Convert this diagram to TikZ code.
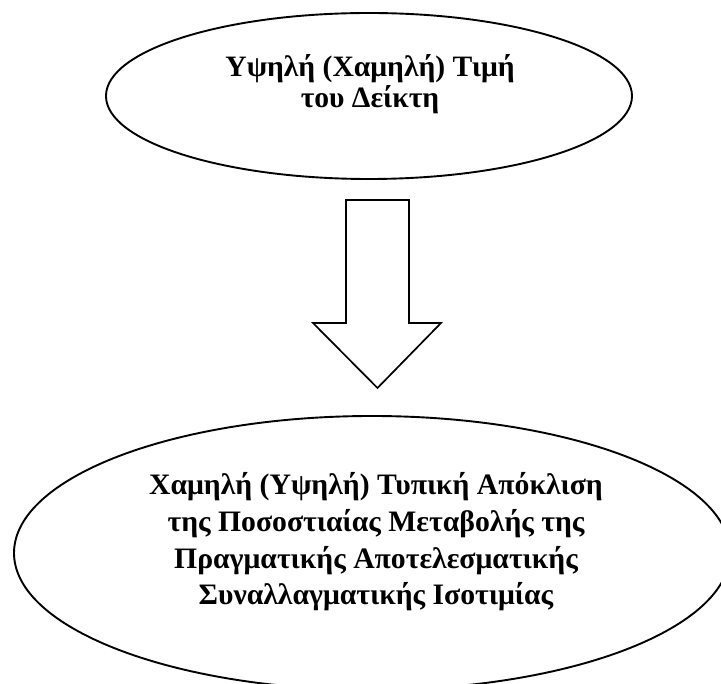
\documentclass[tikz,border=0pt]{standalone}
\usepackage{fontspec}
\setmainfont{Liberation Serif}
\usetikzlibrary{shapes.geometric,calc}
\begin{document}
\begin{tikzpicture}[x=1pt,y=-1pt,line width=1.8pt,
  oval/.style={draw, ellipse, inner sep=0pt, line width=1.9pt},
  toptxt/.style={font=\bfseries\fontsize{29.6}{31}\selectfont, align=center, inner sep=0pt},
  bottxt/.style={font=\bfseries\fontsize{29.7}{36.7}\selectfont, align=center, inner sep=0pt},
  blockarrow/.style={draw, line width=1.7pt, line join=miter}]
\useasboundingbox (0,0) rectangle (721,684);
\clip (0,0) rectangle (721,684);
\node[oval, minimum width=526pt, minimum height=166pt] (top) at (369,96) {};
\node[toptxt, anchor=base] (toptext) at (370,108) {Υψηλή (Χαμηλή) Τιμή\\του Δείκτη};
\node[oval, minimum width=716pt, minimum height=274pt] (bot) at (372,553) {};
\node[bottxt, anchor=base] (bottext) at (376,605) {Χαμηλή (Υψηλή) Τυπική Απόκλιση\\της Ποσοστιαίας Μεταβολής της\\Πραγματικής Αποτελεσματικής\\Συναλλαγματικής Ισοτιμίας};
\coordinate (at) at (377.5,200);
\coordinate (ab) at (377.5,388);
\draw[blockarrow] ($(at)+(-31.5,0)$) -- ($(at)+(31.5,0)$) -- ($(at)+(31.5,123)$) -- ($(at)+(63.5,123)$) -- (ab) -- ($(at)+(-64.5,123)$) -- ($(at)+(-31.5,123)$) -- cycle;
\end{tikzpicture}
\end{document}
